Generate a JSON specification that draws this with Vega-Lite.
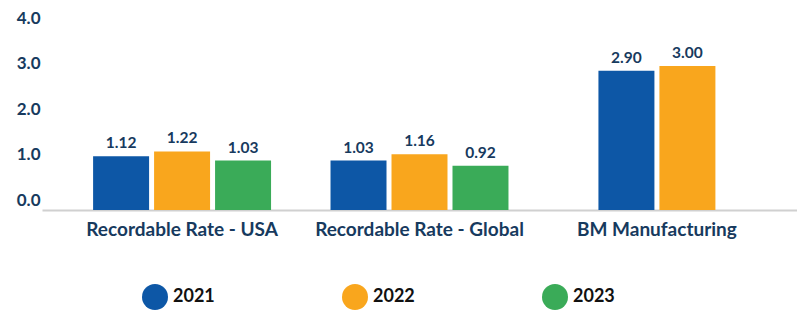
{
  "$schema": "https://vega.github.io/schema/vega-lite/v6.json",
  "width": 755,
  "height": 192,
  "autosize": "none",
  "padding": {"left": 42, "top": 18, "right": 0, "bottom": 100},
  "config": {"view": {"stroke": null}, "font": "Lato"},
  "data": {
    "values": [
      {"category": "Recordable Rate - USA", "year": "2021", "value": 1.12},
      {"category": "Recordable Rate - USA", "year": "2022", "value": 1.22},
      {"category": "Recordable Rate - USA", "year": "2023", "value": 1.03},
      {"category": "Recordable Rate - Global", "year": "2021", "value": 1.03},
      {"category": "Recordable Rate - Global", "year": "2022", "value": 1.16},
      {"category": "Recordable Rate - Global", "year": "2023", "value": 0.92},
      {"category": "BM Manufacturing", "year": "2021", "value": 2.90},
      {"category": "BM Manufacturing", "year": "2022", "value": 3.00}
    ]
  },
  "encoding": {
    "x": {
      "field": "category",
      "type": "nominal",
      "sort": ["Recordable Rate - USA", "Recordable Rate - Global", "BM Manufacturing"],
      "scale": {"paddingInner": 0, "paddingOuter": 0.09},
      "axis": {
        "title": null,
        "labelAngle": 0,
        "labelFontSize": 19,
        "labelFontWeight": "bold",
        "labelColor": "#173a5e",
        "labelPadding": 10,
        "ticks": false,
        "domainColor": "#d0d0d0",
        "domainWidth": 2,
        "labelLimit": 300
      }
    },
    "y": {
      "field": "value",
      "type": "quantitative",
      "scale": {"domain": [0, 4]},
      "axis": {
        "title": null,
        "values": [0, 1, 2, 3, 4],
        "format": ".1f",
        "labelFontSize": 17,
        "labelFontWeight": "bold",
        "labelColor": "#173a5e",
        "labelPadding": 2,
        "labelOffset": {"expr": "-10 + 2.5 * datum.value"},
        "ticks": false,
        "domain": false,
        "grid": false
      }
    }
  },
  "layer": [
    {
      "transform": [{"filter": "datum.category != 'BM Manufacturing'"}],
      "encoding": {
        "xOffset": {"field": "year", "type": "nominal", "scale": {"paddingInner": 0.082, "paddingOuter": 0.4875}}
      },
      "layer": [
        {
          "mark": {"type": "bar"},
          "encoding": {
            "color": {
              "field": "year",
              "type": "nominal",
              "scale": {"domain": ["2021", "2022", "2023"], "range": ["#0D57A6", "#F9A61D", "#3AAB58"]},
              "legend": {
                "title": null,
                "orient": "none",
                "direction": "horizontal",
                "legendX": 100,
                "legendY": 266,
                "symbolType": "circle",
                "symbolSize": 676,
                "symbolStrokeWidth": 0,
                "symbolOpacity": 1,
                "labelFontSize": 18,
                "labelFontWeight": "bold",
                "labelColor": "#111111",
                "labelOffset": 5,
                "columnPadding": 127,
                "padding": 0
              }
            }
          }
        },
        {
          "mark": {"type": "text", "baseline": "bottom", "dy": -5, "fontSize": 15.5, "fontWeight": "bold", "color": "#173a5e"},
          "encoding": {"text": {"field": "value", "type": "quantitative", "format": ".2f"}}
        }
      ]
    },
    {
      "transform": [{"filter": "datum.category == 'BM Manufacturing'"}],
      "encoding": {
        "xOffset": {"field": "year", "type": "nominal", "scale": {"paddingInner": 0.082, "paddingOuter": 0.9875}}
      },
      "layer": [
        {
          "mark": {"type": "bar"},
          "encoding": {
            "color": {"field": "year", "type": "nominal"}
          }
        },
        {
          "mark": {"type": "text", "baseline": "bottom", "dy": -5, "fontSize": 15.5, "fontWeight": "bold", "color": "#173a5e"},
          "encoding": {"text": {"field": "value", "type": "quantitative", "format": ".2f"}}
        }
      ]
    }
  ],
  "resolve": {"scale": {"xOffset": "independent"}}
}
